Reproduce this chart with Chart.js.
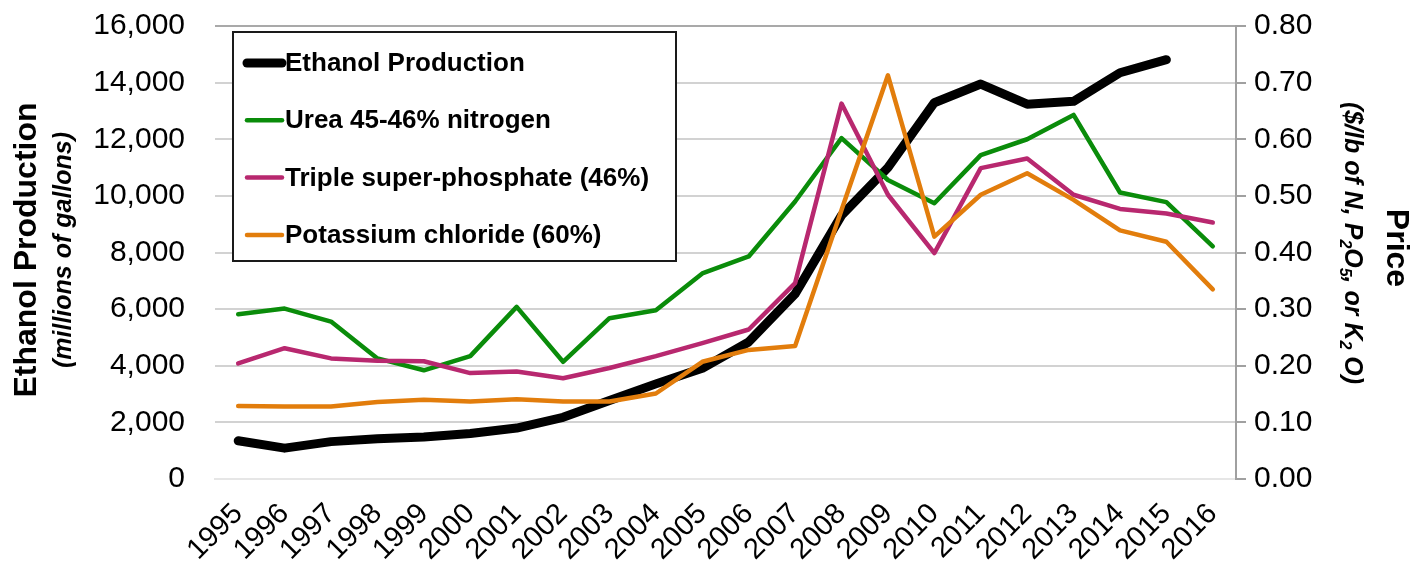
<!DOCTYPE html>
<html>
<head>
<meta charset="utf-8">
<script src="https://cdn.jsdelivr.net/npm/chart.js@4.4.1/dist/chart.umd.min.js"></script>
<style>
  html, body { margin: 0; padding: 0; background: #fff; }
  #wrap { width: 1424px; height: 574px; }
</style>
</head>
<body>
<div id="wrap"><canvas id="chart" width="1424" height="574"></canvas></div>
<script>
// values
const years = ['1995','1996','1997','1998','1999','2000','2001','2002','2003','2004','2005',
               '2006','2007','2008','2009','2010','2011','2012','2013','2014','2015','2016'];
// millions of gallons
const ethanol = [1350, 1090, 1320, 1420, 1480, 1610, 1800, 2180, 2770, 3360, 3910,
                 4840, 6540, 9310, 11000, 13290, 13950, 13240, 13340, 14350, 14810, null];
// $/lb of nutrient
const urea = [0.291, 0.301, 0.278, 0.213, 0.192, 0.217, 0.304, 0.207, 0.284, 0.298, 0.363,
              0.393, 0.490, 0.602, 0.528, 0.487, 0.572, 0.600, 0.643, 0.506, 0.489, 0.411];
const tsp = [0.204, 0.231, 0.213, 0.209, 0.208, 0.187, 0.190, 0.178, 0.196, 0.217, 0.240,
             0.264, 0.346, 0.663, 0.502, 0.399, 0.549, 0.566, 0.502, 0.477, 0.469, 0.453];
const potash = [0.129, 0.128, 0.128, 0.136, 0.140, 0.137, 0.141, 0.137, 0.137, 0.151, 0.207,
                0.228, 0.235, 0.475, 0.713, 0.428, 0.502, 0.540, 0.493, 0.439, 0.419, 0.335];
const leftTicks = [0, 2000, 4000, 6000, 8000, 10000, 12000, 14000, 16000];
const rightTicks = [0, 0.1, 0.2, 0.3, 0.4, 0.5, 0.6, 0.7, 0.8];

const FONT = "'Liberation Sans', Arial, sans-serif";

// legend box drawn inside the plot, like the original
const boxLegend = {
  id: 'boxLegend',
  afterDatasetsDraw(chart) {
    const ctx = chart.ctx, ca = chart.chartArea;
    const x = ca.left + 18, y = ca.top + 6, w = 443, h = 229;
    ctx.save();
    ctx.fillStyle = '#fff';
    ctx.fillRect(x, y, w, h);
    ctx.strokeStyle = '#1a1a1a';
    ctx.lineWidth = 2;
    ctx.strokeRect(x, y, w, h);
    ctx.font = 'bold 26px ' + FONT;
    ctx.textBaseline = 'middle';
    ctx.fillStyle = '#000';
    chart.data.datasets.forEach((ds, i) => {
      const cy = y + 31 + i * 57.3;
      ctx.beginPath();
      ctx.strokeStyle = ds.borderColor;
      ctx.lineWidth = ds.borderWidth;
      ctx.lineCap = 'round';
      ctx.moveTo(x + 14, cy);
      ctx.lineTo(x + 49, cy);
      ctx.stroke();
      ctx.fillText(ds.label, x + 52, cy + 1);
    });
    ctx.restore();
  }
};

// axis titles (with subscripts on the right one)
const axisTitles = {
  id: 'axisTitles',
  afterDraw(chart) {
    const ctx = chart.ctx;
    ctx.save();
    ctx.fillStyle = '#000';
    ctx.textAlign = 'center';
    ctx.textBaseline = 'middle';

    ctx.save();
    ctx.translate(27, 250);
    ctx.rotate(-Math.PI / 2);
    ctx.font = 'bold 32px ' + FONT;
    ctx.fillText('Ethanol Production', 0, 0);
    ctx.restore();

    ctx.save();
    ctx.translate(64, 250);
    ctx.rotate(-Math.PI / 2);
    ctx.font = 'italic bold 25px ' + FONT;
    ctx.fillText('(millions of gallons)', 0, 0);
    ctx.restore();

    ctx.save();
    ctx.translate(1396, 248);
    ctx.rotate(Math.PI / 2);
    ctx.font = 'bold 32px ' + FONT;
    ctx.fillText('Price', 0, 0);
    ctx.restore();

    // ($/lb of N, P2O5, or K2 O)
    const parts = [['($/lb of N, P', 0], ['2', 1], ['O', 0], ['5', 1], [', or K', 0], ['2', 1], [' O)', 0]];
    const big = 'italic bold 25px ' + FONT, small = 'italic bold 16px ' + FONT;
    let total = 0;
    parts.forEach(p => { ctx.font = p[1] ? small : big; total += ctx.measureText(p[0]).width; });
    ctx.save();
    ctx.translate(1352, 243);
    ctx.rotate(Math.PI / 2);
    ctx.textAlign = 'left';
    let px = -total / 2;
    parts.forEach(p => {
      ctx.font = p[1] ? small : big;
      ctx.fillText(p[0], px, p[1] ? 8 : 0);
      px += ctx.measureText(p[0]).width;
    });
    ctx.restore();

    ctx.restore();
  }
};

// keep the plot box where the original has it
function fixY(width) {
  return s => { s.width = width; s.paddingTop = 0; s.paddingBottom = 0; };
}

const chart = new Chart(document.getElementById('chart'), {
  type: 'line',
  data: {
    labels: years,
    datasets: [
      { label: 'Ethanol Production', data: ethanol, yAxisID: 'y', borderColor: '#000000',
        borderWidth: 9, borderCapStyle: 'round', borderJoinStyle: 'round', order: 3 },
      { label: 'Urea 45-46% nitrogen', data: urea, yAxisID: 'y1', borderColor: '#0a8c0a',
        borderWidth: 4.5, order: 2 },
      { label: 'Triple super-phosphate (46%)', data: tsp, yAxisID: 'y1', borderColor: '#b8286f',
        borderWidth: 4.5, order: 1 },
      { label: 'Potassium chloride (60%)', data: potash, yAxisID: 'y1', borderColor: '#e27d0c',
        borderWidth: 4.5, order: 0 }
    ]
  },
  options: {
    responsive: false,
    animation: false,
    events: [],
    elements: {
      point: { radius: 0 },
      line: { tension: 0, borderCapStyle: 'round', borderJoinStyle: 'round', fill: false }
    },
    layout: { padding: { top: 26, left: 0, right: 0, bottom: 0 } },
    plugins: { legend: { display: false }, tooltip: { enabled: false } },
    scales: {
      x: {
        offset: true,
        grid: { display: false },
        border: { display: true, color: '#e6e6e6', width: 2 },
        ticks: {
          autoSkip: false, minRotation: 45, maxRotation: 45, padding: 10,
          color: '#000', font: { family: FONT, size: 29 }
        },
        afterFit(s) { s.height = 95; s.paddingLeft = 0; s.paddingRight = 0; }
      },
      y: {
        position: 'left',
        min: 0, max: 16000,
        afterBuildTicks(s) { s.ticks = leftTicks.map(v => ({ value: v })); },
        grid: {
          color: c => c.tick && c.tick.value === 16000 ? '#a9a9a9' : '#d2d2d2',
          lineWidth: 2, drawTicks: false
        },
        border: { display: false },
        ticks: {
          padding: 30, color: '#000', font: { family: FONT, size: 30 },
          callback: v => v.toLocaleString('en-US')
        },
        afterFit: fixY(215)
      },
      y1: {
        position: 'right',
        min: 0, max: 0.8,
        afterBuildTicks(s) { s.ticks = rightTicks.map(v => ({ value: v })); },
        grid: { drawOnChartArea: false, drawTicks: true, tickLength: 10, color: '#a0a0a0', lineWidth: 2 },
        border: { display: true, color: '#a0a0a0', width: 2 },
        ticks: {
          padding: 8, color: '#000', font: { family: FONT, size: 30 },
          callback: v => Number(v).toFixed(2)
        },
        afterFit: fixY(1424 - 1236)
      }
    }
  },
  plugins: [boxLegend, axisTitles]
});
</script>
</body>
</html>
